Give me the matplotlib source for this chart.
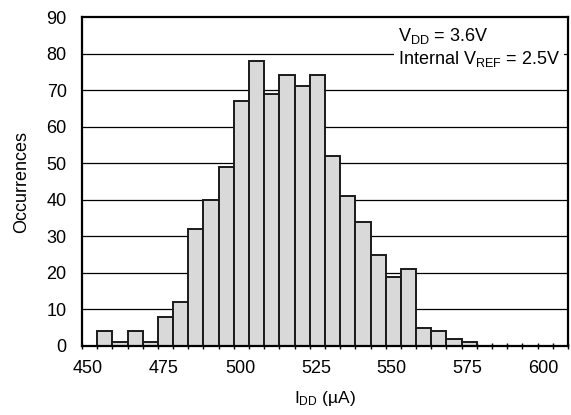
import matplotlib.pyplot as plt
import numpy as np

plt.rcParams['font.family'] = ['Liberation Sans', 'DejaVu Sans']
plt.rcParams['mathtext.fontset'] = 'custom'
plt.rcParams['mathtext.rm'] = 'Liberation Sans'

# histogram bins, 5 uA wide
bin_left = 448
bin_width = 5
counts = [0, 4, 1, 4, 1, 8, 12, 32, 40, 49, 67, 78, 69, 74, 71, 74,
          52, 41, 34, 25, 19, 21, 5, 4, 2, 1, 0, 0, 0, 0, 0, 0]
x_ticks = [450, 475, 500, 525, 550, 575, 600]
y_ticks = [0, 10, 20, 30, 40, 50, 60, 70, 80, 90]

edges = bin_left + bin_width * np.arange(len(counts) + 1)

fig = plt.figure(figsize=(5.71, 4.15), dpi=100)
ax = fig.add_axes([0.1436, 0.1663, 0.8511, 0.7927])

for y in y_ticks[1:-1]:
    ax.axhline(y, color='black', lw=0.9, zorder=1)

ax.bar(edges[:-1], counts, width=bin_width, align='edge',
       color='#d9d9d9', edgecolor='#1a1a1a', linewidth=1.4, zorder=2)

ax.set_xlim(edges[0], edges[-1])
ax.set_ylim(0, 90)
ax.set_xticks(x_ticks)
ax.set_xticks(edges, minor=True)
ax.set_yticks(y_ticks)
ax.tick_params(axis='x', which='major', length=0, pad=10, labelsize=13)
ax.tick_params(axis='x', which='minor', direction='inout', length=5, width=1)
ax.tick_params(axis='y', length=0, pad=11, labelsize=13)
for s in ax.spines.values():
    s.set_linewidth(1.6)
    s.set_zorder(3)

ax.set_xlabel(r'$\mathregular{I_{DD}}$ (µA)', fontsize=12.5)
ax.xaxis.set_label_coords(0.5, -0.13)
ax.set_ylabel('Occurrences', fontsize=13)
ax.yaxis.set_label_coords(-0.107, 0.5)

ax.text(0.650, 0.927, r'$\mathregular{V_{DD}}$ = 3.6V', transform=ax.transAxes,
        fontsize=13, va='baseline', ha='left', zorder=5)
ax.text(0.650, 0.857, r'Internal $\mathregular{V_{REF}}$ = 2.5V', transform=ax.transAxes,
        fontsize=13, va='baseline', ha='left', zorder=4,
        bbox=dict(facecolor='white', edgecolor='none', pad=3))

fig.savefig('out.png', dpi=100)
